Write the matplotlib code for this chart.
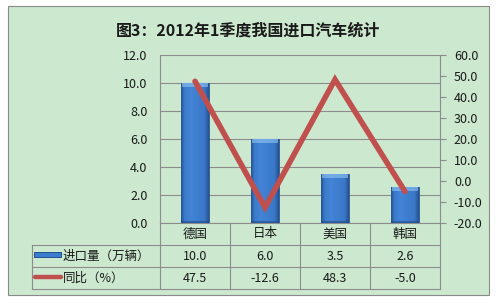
import matplotlib
matplotlib.use("Agg")
import matplotlib.pyplot as plt
import numpy as np
from matplotlib.patches import Rectangle
from matplotlib.lines import Line2D
from matplotlib.transforms import blended_transform_factory
from matplotlib.colors import LinearSegmentedColormap

plt.rcParams['font.family'] = ['Noto Sans CJK SC', 'DejaVu Sans']

title = "图3：2012年1季度我国进口汽车统计"
categories = ["德国", "日本", "美国", "韩国"]
import_volume = [10.0, 6.0, 3.5, 2.6]
yoy_change = [47.5, -12.6, 48.3, -5.0]
series_names = ["进口量（万辆）", "同比（%）"]
left_ticks = [0, 2, 4, 6, 8, 10, 12]
right_ticks = [-20, -10, 0, 10, 20, 30, 40, 50, 60]

W, H = 496, 303
GREEN = '#CCE8CF'
GRID = '#8C8C8C'
TXT = '#1A1A1A'
BLUE = '#3C7CCE'
RED = '#C0504D'

def fx(px):
    return px / W

def fy(py):
    return 1 - py / H

fig = plt.figure(figsize=(W / 100, H / 100), dpi=100)
fig.patch.set_facecolor('white')

# panel
fig.patches.append(Rectangle((fx(9), fy(296)), (490 - 9) / W, (296 - 6) / H,
                             transform=fig.transFigure, facecolor='#9a9a9a',
                             edgecolor='none', zorder=-3))
fig.patches.append(Rectangle((fx(8), fy(295)), (489 - 8) / W, (295 - 6) / H,
                             transform=fig.transFigure, facecolor=GREEN,
                             edgecolor='#8A8A8A', lw=0.8, zorder=-2))

fig.text(0.5, fy(31), title, ha='center', va='center', fontsize=11.5,
         fontweight='bold', color=TXT)

ax = fig.add_axes([fx(160), fy(223), (440 - 160) / W, (223 - 55) / H])
ax.set_facecolor('none')
ax.set_xlim(-0.5, len(categories) - 0.5)
ax.set_ylim(0, 12)
ax.set_yticks(left_ticks)
ax.set_yticklabels([f"{v:.1f}" for v in left_ticks])
ax.set_xticks([])
ax.tick_params(axis='y', length=0, pad=9, labelsize=9, colors=TXT)
ax.grid(axis='y', color=GRID, lw=0.8)
ax.set_axisbelow(True)
for s in ['top', 'right']:
    ax.spines[s].set_visible(False)
for s in ['left', 'bottom']:
    ax.spines[s].set_color(GRID)
    ax.spines[s].set_linewidth(0.8)

x = np.arange(len(categories))
bars = ax.bar(x, import_volume, width=0.4, color=BLUE, edgecolor='#2A558F',
              linewidth=0.6, zorder=2)

# gradient fill for a 3D look
cmap = LinearSegmentedColormap.from_list(
    'b', [(0.0, '#25528F'), (0.12, '#3B7BCC'), (0.35, '#4384D6'),
          (0.85, '#3A78C8'), (1.0, '#25528F')])
grad = np.linspace(0, 1, 64).reshape(1, -1)
for b in bars:
    x0, y0 = b.get_x(), b.get_y()
    w, h = b.get_width(), b.get_height()
    im = ax.imshow(grad, extent=[x0, x0 + w, y0, y0 + h], cmap=cmap,
                   aspect='auto', zorder=2.5, interpolation='bicubic')
    im.set_clip_path(b)
    ax.add_patch(Rectangle((x0 + 0.02, y0 + h - 0.28), w - 0.04, 0.28,
                           facecolor='#8CC0F0', edgecolor='none', alpha=0.65,
                           zorder=2.6))
    ax.add_patch(Rectangle((x0, y0), w, min(0.15, h), facecolor='#1F4A85',
                           edgecolor='none', alpha=0.6, zorder=2.6))
ax.set_xlim(-0.5, len(categories) - 0.5)
ax.set_ylim(0, 12)

ax2 = ax.twinx()
ax2.set_ylim(-20, 60)
ax2.set_yticks(right_ticks)
ax2.set_yticklabels([f"{v:.1f}" for v in right_ticks])
ax2.tick_params(axis='y', length=4, width=0.8, color=GRID, pad=6,
                labelsize=9, colors=TXT)
for s in ['top', 'left', 'bottom']:
    ax2.spines[s].set_visible(False)
ax2.spines['right'].set_color(GRID)
ax2.spines['right'].set_linewidth(0.8)
ax2.plot(x, yoy_change, color=RED, lw=4.0, solid_joinstyle='miter',
         solid_capstyle='round', zorder=3)

# data table
bt = blended_transform_factory(ax.transData, fig.transFigure)
ft = fig.transFigure
lkw = dict(color=GRID, lw=0.8, transform=ft)
for py in [245, 267, 289]:
    fig.add_artist(Line2D([fx(32), fx(440)], [fy(py), fy(py)], **lkw))
fig.add_artist(Line2D([fx(32), fx(32)], [fy(245), fy(289)], **lkw))
for px in [160, 440]:
    fig.add_artist(Line2D([fx(px), fx(px)], [fy(223), fy(289)], **lkw))
for b in np.arange(0.5, len(categories) - 0.5, 1.0):
    fig.add_artist(Line2D([b, b], [fy(223), fy(289)], color=GRID, lw=0.8,
                          transform=bt))

for i, c in enumerate(categories):
    fig.text(x[i], fy(234), c, transform=bt, ha='center', va='center',
             fontsize=9, color=TXT)
    fig.text(x[i], fy(256), f"{import_volume[i]:.1f}", transform=bt,
             ha='center', va='center', fontsize=9, color=TXT)
    fig.text(x[i], fy(278), f"{yoy_change[i]:.1f}", transform=bt,
             ha='center', va='center', fontsize=9, color=TXT)

fig.text(fx(63), fy(256), series_names[0], ha='left', va='center',
         fontsize=9, color=TXT)
fig.text(fx(63), fy(278), series_names[1], ha='left', va='center',
         fontsize=9, color=TXT)

# legend keys
fig.patches.append(Rectangle((fx(34), fy(257)), 27 / W, 5 / H,
                             transform=ft, facecolor=BLUE,
                             edgecolor='#24508C', lw=0.7))
fig.add_artist(Line2D([fx(35), fx(61)], [fy(277), fy(277)], color=RED,
                      lw=3.2, solid_capstyle='round', transform=ft))

fig.savefig('out.png', dpi=100, facecolor='white')
